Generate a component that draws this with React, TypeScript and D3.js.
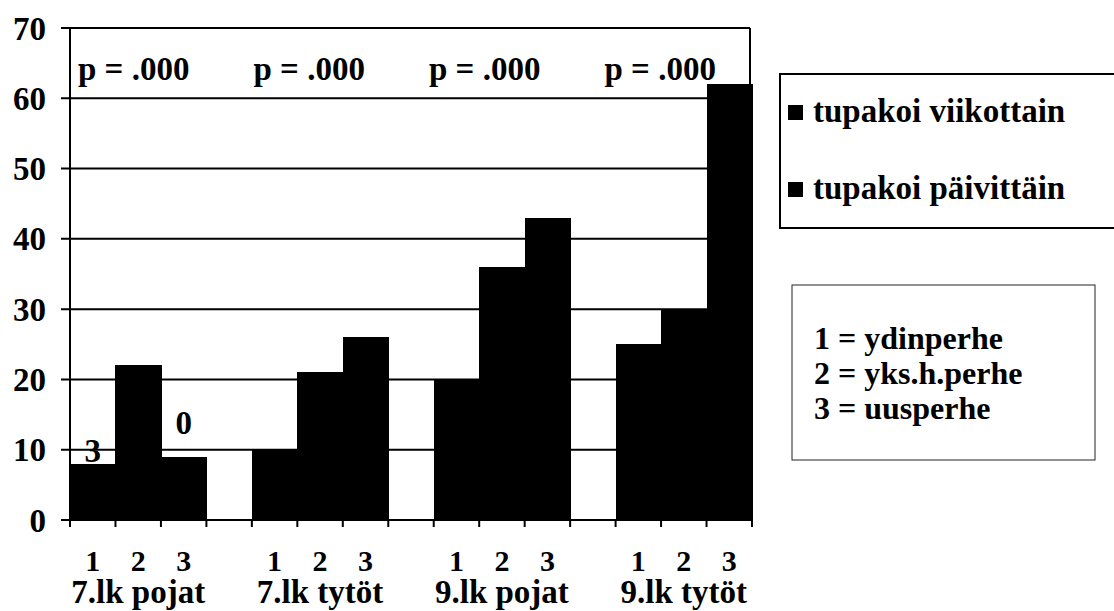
import React from "react";
import * as d3 from "d3";

// Groups (school grade + gender) and family types within each group
const groups = ["7.lk pojat", "7.lk tytöt", "9.lk pojat", "9.lk tytöt"];
const familyTypes = ["1", "2", "3"];
const familyLegend = ["1 = ydinperhe", "2 = yks.h.perhe", "3 = uusperhe"];

// Share of smokers (%), one value per group x family type, in order
const weekly = [3, 5, 0, 5, 6, 7, 4, 7, 6, 8, 8, 9];
const daily = [5, 17, 9, 5, 15, 19, 16, 29, 37, 17, 22, 53];

const seriesNames = ["tupakoi viikottain", "tupakoi päivittäin"];
const pValues = ["p = .000", "p = .000", "p = .000", "p = .000"];
const yTicks = [0, 10, 20, 30, 40, 50, 60, 70];

// Value labels shown for the weekly segment
const weeklyLabels = [
  { bar: 0, lift: 0.2 },
  { bar: 2, lift: 3.2 },
];

const W = 1114;
const H = 611;
const txt = { fontFamily: "Liberation Serif", fontWeight: 700 } as React.CSSProperties;

export default function App() {
  // 12 bar slots plus an empty slot between groups
  const slots: string[] = [];
  groups.forEach((g, gi) => {
    familyTypes.forEach((f) => slots.push(`${g}|${f}`));
    if (gi < groups.length - 1) slots.push(`gap${gi}`);
  });

  const x = d3.scaleBand<string>().domain(slots).range([70, 752]).padding(0);
  const y = d3.scaleLinear().domain([0, 70]).range([520, 28]);

  const bars = groups.flatMap((g, gi) =>
    familyTypes.map((f, fi) => {
      const i = gi * 3 + fi;
      return { key: `${g}|${f}`, f, weekly: weekly[i], daily: daily[i] };
    })
  );

  const stack = d3
    .stack<any>()
    .keys(["weekly", "daily"])(bars as any);

  const bw = x.bandwidth();
  const groupCenter = (g: string) =>
    ((x(`${g}|1`) as number) + (x(`${g}|3`) as number) + bw) / 2;

  const [xLeft, xRight] = x.range();

  // p-value captions run evenly along the top of the plot
  const pX = d3
    .scaleBand<number>()
    .domain(pValues.map((_, i) => i))
    .range([xLeft, xRight + 20]);

  return (
    <svg
      width={W}
      height={H}
      style={{ position: "absolute", left: 0, top: 0, background: "#fff" }}
    >
      {/* gridlines */}
      {yTicks.map((t) => (
        <line
          key={t}
          x1={xLeft - 9}
          x2={xRight - 2}
          y1={y(t)}
          y2={y(t)}
          stroke="#000"
          strokeWidth={2}
        />
      ))}
      {/* right frame */}
      <line x1={xRight - 2} x2={xRight - 2} y1={y(70)} y2={y(0)} stroke="#000" strokeWidth={2} />

      {/* weekly value labels */}
      {weeklyLabels.map((l) => {
        const b = bars[l.bar];
        return (
          <text
            key={l.bar}
            x={(x(b.key) as number) + bw / 2}
            y={y(b.weekly + b.daily + l.lift)}
            textAnchor="middle"
            fontSize={33}
            style={txt}
          >
            {b.weekly}
          </text>
        );
      })}

      {/* stacked bars */}
      <g shapeRendering="crispEdges">
        {stack.map((layer) =>
          layer.map((d: any, i: number) => {
            const x0 = Math.round(x(bars[i].key) as number);
            const x1 = Math.round((x(bars[i].key) as number) + bw);
            return (
              <rect
                key={`${layer.key}-${i}`}
                x={x0}
                y={Math.round(y(d[1]))}
                width={x1 - x0 + 1}
                height={Math.round(y(d[0])) - Math.round(y(d[1])) + 1}
                fill="#000"
              />
            );
          })
        )}
      </g>

      {/* axes */}
      <line x1={xLeft} x2={xLeft} y1={y(70)} y2={y(0) + 7} stroke="#000" strokeWidth={2} />
      <line x1={xLeft - 9} x2={xRight} y1={y(0)} y2={y(0)} stroke="#000" strokeWidth={2} />
      {slots.map((s) => (
        <line
          key={s}
          x1={(x(s) as number) + bw}
          x2={(x(s) as number) + bw}
          y1={y(0)}
          y2={y(0) + 7}
          stroke="#000"
          strokeWidth={2}
        />
      ))}

      {/* y tick labels */}
      {yTicks.map((t) => (
        <text
          key={t}
          x={46}
          y={y(t)}
          dy="0.35em"
          textAnchor="end"
          fontSize={33}
          style={txt}
        >
          {t}
        </text>
      ))}

      {/* x labels: family type numbers */}
      {bars.map((b) => (
        <text
          key={b.key}
          x={(x(b.key) as number) + bw / 2}
          y={571}
          textAnchor="middle"
          fontSize={30}
          style={txt}
        >
          {b.f}
        </text>
      ))}
      {/* x labels: groups */}
      {groups.map((g) => (
        <text key={g} x={groupCenter(g)} y={603} textAnchor="middle" fontSize={33} style={txt}>
          {g}
        </text>
      ))}

      {/* p-values */}
      {pValues.map((p, i) => (
        <text key={i} x={(pX(i) as number) + 8} y={80} fontSize={33} style={txt}>
          {p}
        </text>
      ))}

      {/* series legend */}
      <rect x={780} y={74} width={340} height={154} fill="#fff" stroke="#000" strokeWidth={2} />
      {seriesNames.map((s, i) => (
        <g key={s} transform={`translate(0, ${i * 77})`}>
          <rect x={788} y={105} width={15} height={15} fill="#000" />
          <text x={813} y={122} fontSize={33} style={txt}>
            {s}
          </text>
        </g>
      ))}

      {/* family type legend */}
      <rect x={792} y={285} width={303} height={175} fill="#fff" stroke="#222" strokeWidth={1} />
      {familyLegend.map((s, i) => (
        <text key={s} x={814} y={349 + i * 35} fontSize={32} style={txt}>
          {s}
        </text>
      ))}
    </svg>
  );
}
